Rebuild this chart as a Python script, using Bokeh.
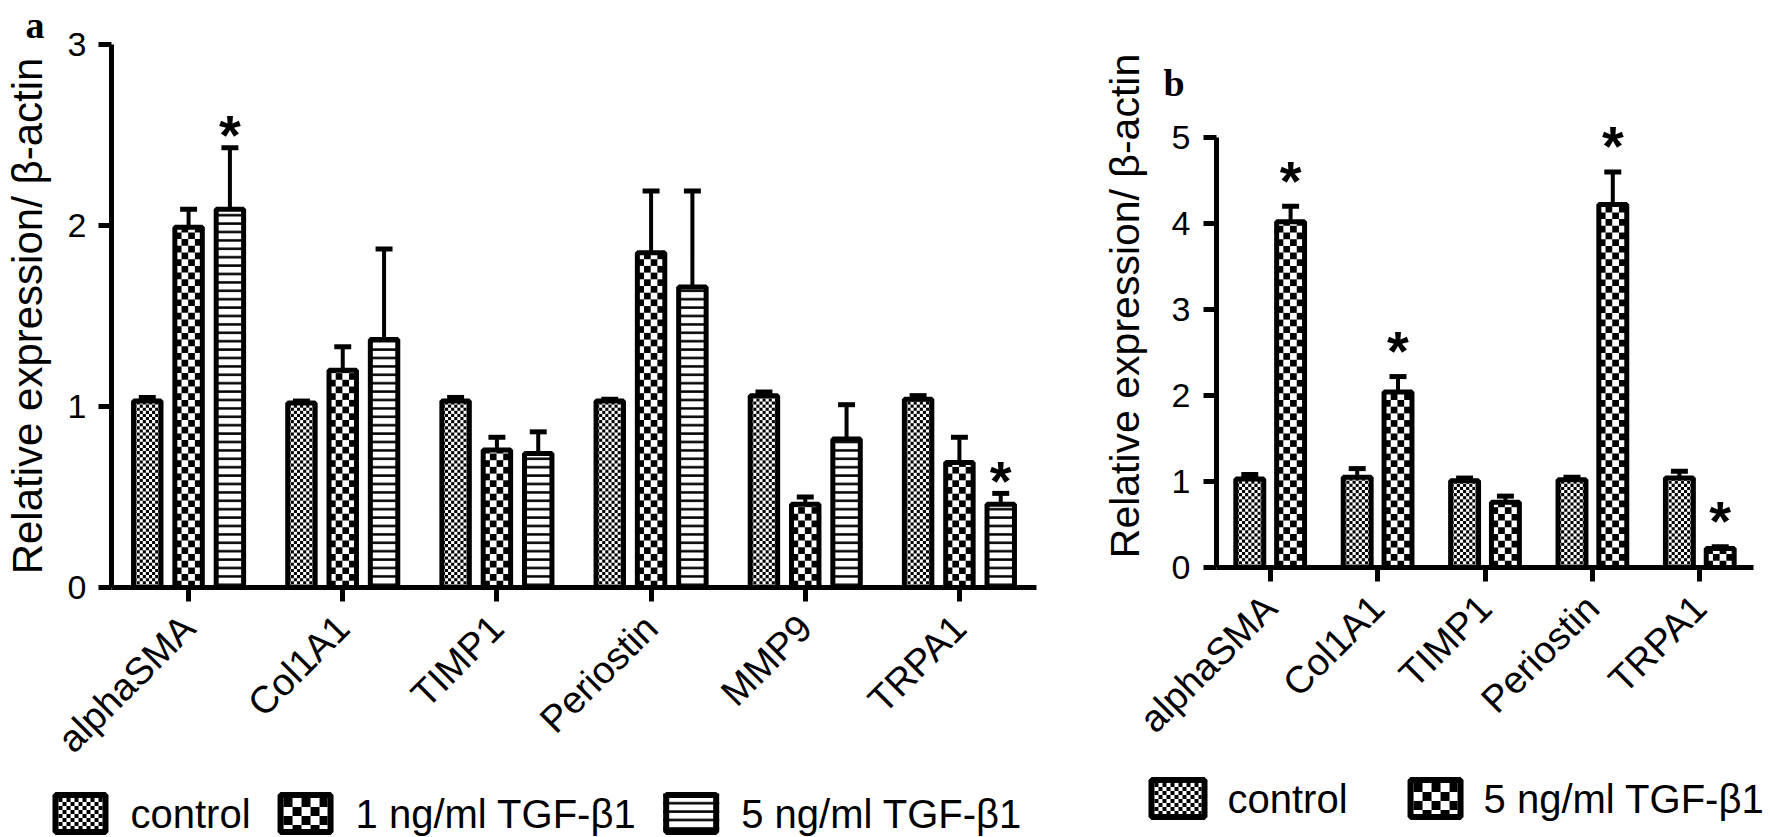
import math
from bokeh.plotting import figure
from bokeh.models import ColumnDataSource, FactorRange, Range1d, FixedTicker
from bokeh.transform import dodge
from bokeh.layouts import row
from bokeh.core.properties import value
from bokeh.embed import file_html
from bokeh.resources import INLINE

# ---------------- data: panel a ----------------
genes_a = ["alphaSMA", "Col1A1", "TIMP1", "Periostin", "MMP9", "TRPA1"]
control_a = [1.03, 1.02, 1.03, 1.03, 1.06, 1.04]
control_a_err = [0.02, 0.01, 0.02, 0.01, 0.02, 0.02]
tgf1_a = [1.99, 1.20, 0.76, 1.85, 0.46, 0.69]
tgf1_a_err = [0.10, 0.13, 0.07, 0.34, 0.04, 0.14]
tgf5_a = [2.09, 1.37, 0.74, 1.66, 0.82, 0.46]
tgf5_a_err = [0.34, 0.50, 0.12, 0.53, 0.19, 0.06]
star_a_tgf5 = [True, False, False, False, False, True]
yticks_a = [0, 1, 2, 3]

# ---------------- data: panel b ----------------
genes_b = ["alphaSMA", "Col1A1", "TIMP1", "Periostin", "TRPA1"]
control_b = [1.03, 1.05, 1.01, 1.02, 1.04]
control_b_err = [0.05, 0.10, 0.03, 0.03, 0.08]
tgf5_b = [4.02, 2.04, 0.76, 4.22, 0.22]
tgf5_b_err = [0.18, 0.18, 0.07, 0.38, 0.02]
star_b_tgf5 = [True, True, False, True, True]
yticks_b = [0, 1, 2, 3, 4, 5]

labels_a = ["control", "1 ng/ml TGF-\u03b21", "5 ng/ml TGF-\u03b21"]
labels_b = ["control", "5 ng/ml TGF-\u03b21"]
y_label = "Relative expression/ \u03b2-actin"

FONT = "Liberation Sans"

# ---------------- layout constants (canvas px) ----------------
HA, HB = 821, 801
TOP, BOT_BORDER = 44, 234        # shared border sizes (plots in a row share them)
WA, LA, RA = 1042, 107, 1036     # panel a: width, frame left, frame right
WB, LB, RB = 712, 174, 711       # panel b: width, frame left, frame right
B_FIVE = 137                     # canvas y of the value 5 in panel b
PW, PH = 1770, 837               # overlay = whole window

ADV = {'1': .556, '5': .556, ' ': .278, 'n': .556, 'g': .556, '/': .278,
       'm': .833, 'l': .222, 'T': .611, 'G': .778, 'F': .611, '-': .333,
       '\u03b2': .57, 'c': .5, 'o': .556, 't': .278, 'r': .333}


def text_w(s, fs):
    return sum(ADV.get(ch, .556) for ch in s) * fs


def style_axes(p, ticks, label_size, tick_standoff, label_standoff):
    p.xgrid.visible = False
    p.ygrid.visible = False
    p.outline_line_color = None
    p.background_fill_color = "white"
    p.border_fill_color = "white"
    for ax in (p.xaxis[0], p.yaxis[0]):
        ax.axis_line_width = 5
        ax.axis_line_color = "black"
        ax.major_tick_line_width = 5
        ax.major_tick_line_color = "black"
        ax.major_tick_in = 0
        ax.minor_tick_line_color = None
        ax.major_label_text_font = FONT
        ax.major_label_text_color = "black"
    p.yaxis.major_tick_out = 13
    p.xaxis.major_tick_out = 14
    p.yaxis.major_label_text_font_size = "34px"
    p.xaxis.major_label_text_font_size = "38px"
    p.yaxis.ticker = FixedTicker(ticks=ticks)
    p.yaxis.major_label_standoff = tick_standoff
    p.xaxis.major_label_standoff = 20
    p.xaxis.major_label_orientation = math.pi / 4
    p.yaxis.axis_label = y_label
    p.yaxis.axis_label_text_font = FONT
    p.yaxis.axis_label_text_font_style = "normal"
    p.yaxis.axis_label_text_font_size = label_size
    p.yaxis.axis_label_standoff = label_standoff
    p.yaxis.axis_label_text_color = "black"


def checker_cells(centers, tops, w, cx, cy, base=0.0):
    L, R, B, T = [], [], [], []
    for xc, top in zip(centers, tops):
        x0 = xc - w / 2
        h = top - base
        sgn = 1 if h >= 0 else -1
        ncol = int(math.ceil(w / cx - 1e-9))
        nrow = int(math.ceil(abs(h) / cy - 1e-9))
        for r in range(nrow):
            yb = base + sgn * r * cy
            yt = base + sgn * min((r + 1) * cy, abs(h))
            for c in range(ncol):
                if (r + c) % 2:
                    continue
                L.append(x0 + c * cx)
                R.append(min(x0 + (c + 1) * cx, x0 + w))
                B.append(yb)
                T.append(yt)
    return dict(left=L, right=R, bottom=B, top=T)


def add_series(p, genes, vals, errs, off, bw, cap, style, xu, yu):
    tops = [v + e for v, e in zip(vals, errs)]
    src = ColumnDataSource(dict(gene=genes, val=vals, top=tops))
    xc = dodge("gene", off, range=p.x_range)
    p.segment(x0=xc, y0="val", x1=xc, y1="top", source=src,
              line_width=4, line_color="black")
    p.segment(x0=dodge("gene", off - cap / 2, range=p.x_range), y0="top",
              x1=dodge("gene", off + cap / 2, range=p.x_range), y1="top",
              source=src, line_width=5, line_color="black")
    if style["kind"] == "lines":
        p.vbar(x=xc, top="val", bottom=0, width=bw, source=src,
               fill_color="white", line_color="black", line_width=5,
               hatch_pattern="horizontal_line", hatch_color="black",
               hatch_scale=style["scale"], hatch_weight=style["weight"])
    else:
        p.vbar(x=xc, top="val", bottom=0, width=bw, source=src,
               fill_color="white", line_color=None)
        centers = [i + 0.5 + off for i in range(len(genes))]
        cs = style["cell"]
        cells = checker_cells(centers, vals, bw, cs / xu, cs / yu)
        p.quad(source=ColumnDataSource(cells), left="left", right="right",
               bottom="bottom", top="top", fill_color="black", line_color=None)
        p.vbar(x=xc, top="val", bottom=0, width=bw, source=src,
               fill_alpha=0, line_color="black", line_width=5)


def add_stars(p, genes, vals, errs, flags, off, yoff):
    g = [gg for gg, f in zip(genes, flags) if f]
    t = [v + e for v, e, f in zip(vals, errs, flags) if f]
    src = ColumnDataSource(dict(gene=g, top=t, s=["*"] * len(g)))
    p.text(x=dodge("gene", off, range=p.x_range), y="top", text="s", source=src,
           text_font=value(FONT), text_font_style="bold", text_font_size="56px",
           text_align="center", text_baseline="alphabetic", y_offset=yoff,
           text_color="black")


CTRL = {"kind": "checker", "cell": 3.1, "lcell": 4.0}
COARSE = {"kind": "checker", "cell": 6.7, "lcell": 9.0}
LINES = {"kind": "lines", "scale": 8.4, "weight": 2.5}

# ---------------- panel a ----------------
pa = figure(width=WA, height=HA, x_range=FactorRange(factors=genes_a),
            y_range=Range1d(0, 3), output_backend="svg", toolbar_location=None,
            min_border_left=LA, min_border_right=WA - RA, min_border_top=TOP,
            min_border_bottom=BOT_BORDER)
style_axes(pa, yticks_a, "42px", 12, 14)
xu_a = (RA - LA) / len(genes_a)
yu_a = (HA - BOT_BORDER - TOP) / 3.0
bw_a, off_a, cap_a = 0.178, 0.268, 0.11

add_series(pa, genes_a, control_a, control_a_err, -off_a, bw_a, cap_a, CTRL, xu_a, yu_a)
add_series(pa, genes_a, tgf1_a, tgf1_a_err, 0.0, bw_a, cap_a, COARSE, xu_a, yu_a)
add_series(pa, genes_a, tgf5_a, tgf5_a_err, off_a, bw_a, cap_a, LINES, xu_a, yu_a)
add_stars(pa, genes_a, tgf5_a, tgf5_a_err, star_a_tgf5, off_a, -13)

# ---------------- panel b ----------------
zero_b = HB - BOT_BORDER
yu_b = (zero_b - B_FIVE) / 5.0
pb = figure(width=WB, height=HB, x_range=FactorRange(factors=genes_b),
            y_range=Range1d(0, 5 + (B_FIVE - TOP) / yu_b), output_backend="svg",
            toolbar_location=None, min_border_left=LB, min_border_right=WB - RB,
            min_border_top=TOP, min_border_bottom=BOT_BORDER)
style_axes(pb, yticks_b, "41px", 13, 21)
pb.yaxis.bounds = (0, 5)
xu_b = (RB - LB) / len(genes_b)
bw_b, off_b, cap_b = 0.26, 0.19, 0.158

add_series(pb, genes_b, control_b, control_b_err, -off_b, bw_b, cap_b, CTRL, xu_b, yu_b)
add_series(pb, genes_b, tgf5_b, tgf5_b_err, off_b, bw_b, cap_b, COARSE, xu_b, yu_b)
add_stars(pb, genes_b, tgf5_b, tgf5_b_err, star_b_tgf5, off_b, -26)

# ---------------- overlay: panel letters and legends (window pixel coords) ----------------
ov = figure(width=PW, height=PH, x_range=Range1d(0, PW), y_range=Range1d(PH, 0),
            output_backend="svg", toolbar_location=None, x_axis_location=None,
            y_axis_location=None, min_border=0, outline_line_color=None,
            background_fill_color=None, border_fill_color=None,
            styles={"position": "absolute", "top": "0px", "left": "0px",
                    "z-index": "5"})
ov.grid.visible = False


def ov_legend(items, x0, yc, ph, gap_pt, gap_tp, fs):
    x = x0
    lw = 6
    for lab, st, w in items:
        top, bot = yc - ph / 2, yc + ph / 2
        if st["kind"] == "lines":
            ov.quad(left=[x], right=[x + w], top=[top], bottom=[bot],
                    fill_color="white", line_color=None,
                    hatch_pattern="horizontal_line", hatch_color="black",
                    hatch_scale=st["scale"], hatch_weight=st["weight"])
        else:
            ov.quad(left=[x], right=[x + w], top=[top], bottom=[bot],
                    fill_color="white", line_color=None)
            cs = st["lcell"]
            iw = w - 2 * lw
            cells = checker_cells([x + w / 2], [bot - lw], iw, cs, cs, base=top + lw)
            ov.quad(source=ColumnDataSource(cells), left="left", right="right",
                    top="top", bottom="bottom", fill_color="black", line_color=None)
        ov.quad(left=[x + lw / 2], right=[x + w - lw / 2], top=[top + lw / 2],
                bottom=[bot - lw / 2], fill_alpha=0, line_color="black", line_width=lw)
        tx = x + w + gap_pt
        ov.text(x=[tx], y=[yc], text=[lab], text_font=value(FONT),
                text_font_size=f"{fs}px", text_baseline="middle", text_align="left",
                text_color="black")
        x = tx + text_w(lab, fs) + gap_tp


ov_legend([(labels_a[0], CTRL, 56), (labels_a[1], COARSE, 56), (labels_a[2], LINES, 56)],
          x0=52, yc=813, ph=43, gap_pt=22, gap_tp=27, fs=40)
ov_legend([(labels_b[0], CTRL, 59), (labels_b[1], COARSE, 56)],
          x0=1148, yc=798, ph=43, gap_pt=20, gap_tp=60, fs=40)

ov.text(x=[25, 1163], y=[24, 82], text=["a", "b"], text_font=value("Liberation Serif"),
        text_font_style="bold", text_font_size="38px", text_baseline="alphabetic",
        text_align="left", text_color="black")

main = row(pa, pb)
open("out.html", "w").write(file_html([main, ov], INLINE))
